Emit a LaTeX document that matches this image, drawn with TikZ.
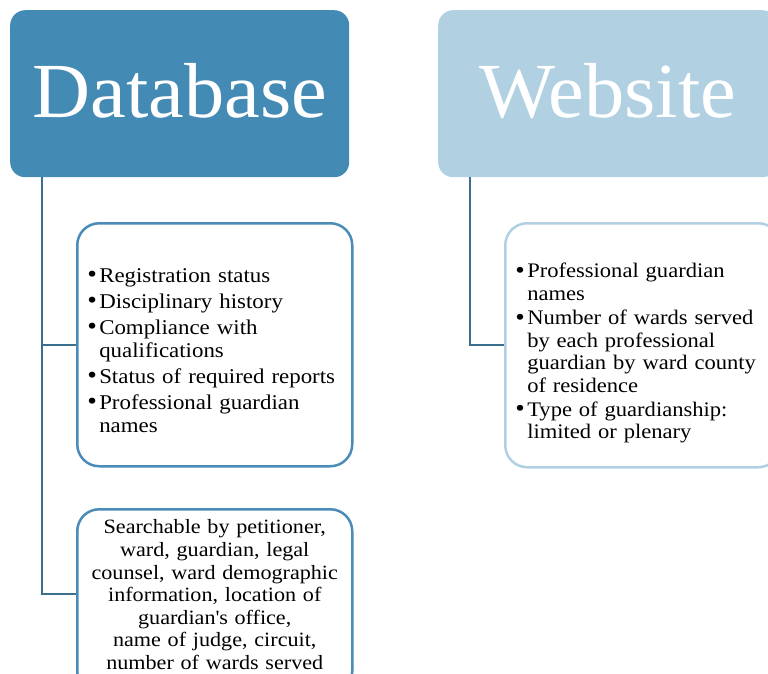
\documentclass[tikz,border=0pt]{standalone}
\usepackage{fontspec}
\usepackage{graphicx}
\setmainfont[FakeStretch=1.09]{Liberation Serif}
\newfontfamily\titlefont[FakeStretch=1.03]{Liberation Serif}
\usetikzlibrary{calc}

\definecolor{dbfill}{RGB}{67,138,180}
\definecolor{webfill}{RGB}{177,209,227}
\definecolor{dbline}{RGB}{74,140,183}
\definecolor{webline}{RGB}{177,209,227}
\definecolor{connline}{RGB}{60,110,142}

% bullet item with hanging indent; lines inside an item break with \newline
\newcommand{\bul}[1]{\hangindent=10pt\hangafter=1\noindent
  \makebox[10pt][l]{\hspace{-2pt}\raisebox{-0.5pt}{\scalebox{1.2}{\textbullet}}}#1\par}

\tikzset{
  header/.style={rounded corners=15pt, minimum width=339pt, minimum height=167pt,
    anchor=north west, inner sep=0pt, text=white,
    font=\titlefont\fontsize{78}{90}\selectfont, text height=47pt, text depth=0pt},
  itembox/.style={rounded corners=22pt, line width=2.5pt, fill=white,
    minimum width=275pt, anchor=north west, inner ysep=0pt, align=left},
  conn/.style={draw=connline, line width=2pt}
}

\begin{document}
\begin{tikzpicture}[x=1pt, y=-1pt]
\useasboundingbox (0,0) rectangle (768,674);
\clip (0,0) rectangle (768,674);

% column headers
\node[header, fill=dbfill] (db) at (10,10) {Database};
\node[header, fill=webfill] (web) at (438,10) {Website};

% database detail boxes
\node[itembox, draw=dbline, minimum height=243pt, inner xsep=12pt, text width=251pt,
      text height=14pt, text depth=139pt,
      font=\fontsize{21}{23.2}\selectfont] (b1) at (76,222) {%
  \setlength{\parskip}{2.8pt}%
  \bul{Registration status}
  \bul{Disciplinary history}
  \bul{Compliance with\newline qualifications}
  \bul{Status of required reports}
  \bul{Professional guardian\newline names}};

\node[itembox, draw=dbline, minimum height=184pt, inner xsep=4pt, text width=267pt,
      align=center, text height=14pt, text depth=148.6pt,
      font=\fontsize{20.3}{22.6}\selectfont] (b2) at (76,508) {%
  Searchable by petitioner,\\ward, guardian, legal\\counsel, ward demographic\\
  information, location of\\guardian\textquotesingle s office,\\name of judge, circuit,\\
  number of wards served};

% website detail box
\node[itembox, draw=webline, minimum height=244pt, inner xsep=12pt, text width=251pt,
      text height=14pt, text depth=148.6pt,
      font=\fontsize{20.7}{22.6}\selectfont] (wb) at (504,222) {%
  \setlength{\parskip}{1.4pt}%
  \bul{Professional guardian\newline names}
  \bul{Number of wards served\newline by each professional\newline guardian by ward county\newline of residence}
  \bul{Type of guardianship:\newline limited or plenary}};

% connectors
\coordinate (b2in) at ($(b2.west)+(0,-7)$);
\draw[conn] ([xshift=32pt]db.south west) coordinate (dbroot) |- (b1.west);
\draw[conn] (dbroot) |- (b2in);
\draw[conn] ([xshift=32pt]web.south west) |- (wb.west);
\end{tikzpicture}
\end{document}
